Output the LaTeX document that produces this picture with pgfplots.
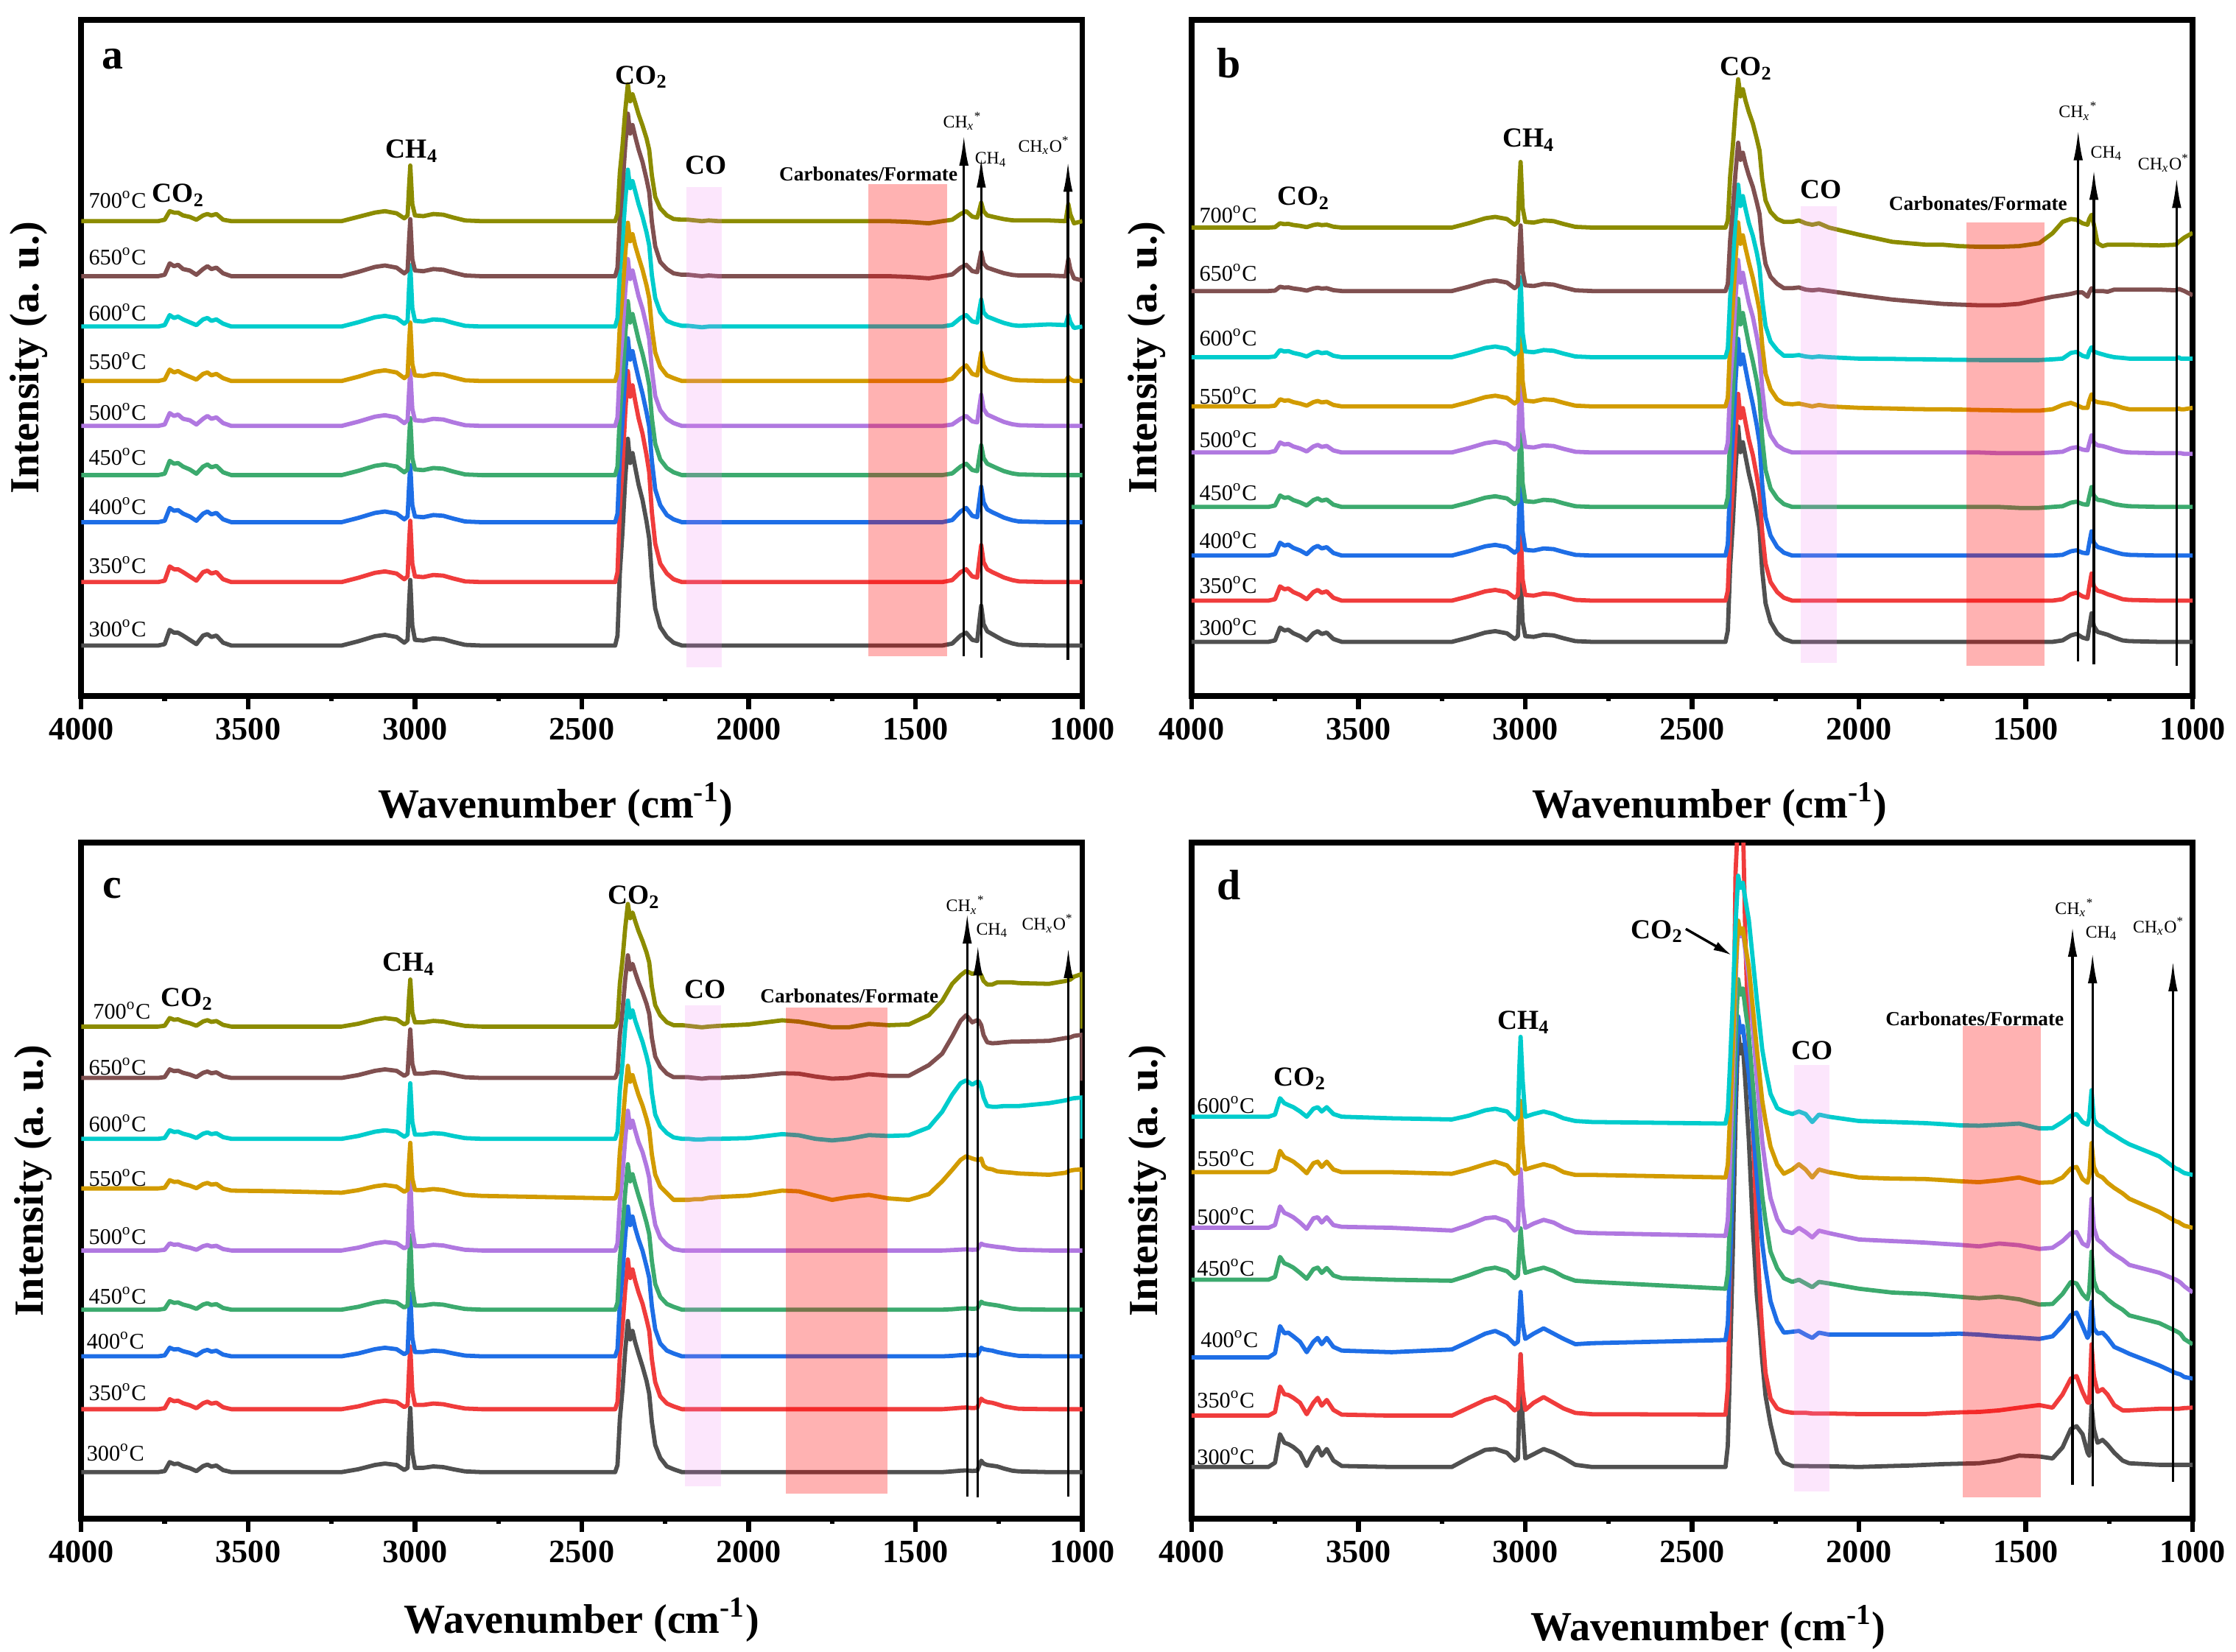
\documentclass[border=0pt]{standalone}
\usepackage{fontspec}
\setmainfont{Liberation Serif}
\usepackage{pgfplots}
\usepackage{pgfplotstable}
\pgfplotsset{compat=1.18}
\usetikzlibrary{arrows.meta}

\definecolor{c300}{RGB}{80,80,80}
\definecolor{c350}{RGB}{240,60,60}
\definecolor{c400}{RGB}{30,110,230}
\definecolor{c450}{RGB}{60,170,110}
\definecolor{c500}{RGB}{176,120,224}
\definecolor{c550}{RGB}{210,155,0}
\definecolor{c600}{RGB}{0,204,204}
\definecolor{c650}{RGB}{128,80,80}
\definecolor{c700}{RGB}{140,140,0}
\definecolor{coband}{RGB}{238,130,238}
\definecolor{carb}{RGB}{255,0,0}

\pgfplotstableread{
x t300 t350 t400 t450 t500 t550 t600 t650 t700
4000 0 0 0 0 0 0 0 0 0
3770 0 0 0 0 0 0 0 0 0
3750 1 1 1 1 1 1 1 1 1
3735 11 11 10 10 9 8 8 9 7
3722 9 9 8 8 7 6 6 7 6
3710 9 9 8.5 8.5 8 7 7 8 6
3695 7 7 6 6 5 5 5 5 4
3675 4 4 4 4 4 3 3 4 3
3655 1 1 1 1 1 1 1 1 1
3635 7 7 6 6 5 5 5 5 4
3622 8 8 7.5 7.5 7 6 6 7 5
3610 6 6 5.5 5.5 5 4 4 5 4
3595 7 7 6.5 6.5 6 5 5 6 5
3575 2 2 2 2 2 2 2 2 1
3550 0 0 0 0 0 0 0 0 0
3400 0 0 0 0 0 0 0 0 0
3220 0 0 0 0 0 0 0 0 0
3170 3 3 3 3 3 3 3 3 3
3120 6.5 6.5 6.5 6.5 6.5 6.5 6.5 6.5 6
3090 7.5 7.5 7.5 7.5 7.5 7.5 7.5 7.5 7
3055 6 6 6 6 6 6 6 6 5.5
3032 2 2 2 2 2 2 2 2 2
3022 4 4 4 4 4 4 4 4 4
3018 28 26 24 24 23 25 26 24 23
3014 46 43 40 40 39 41 43 40 39
3008 14 13 12 12 12 12 13 12 12
3000 4 4 4 4 4 4 4 4 4
2975 3.5 3.5 3.5 3.5 3.5 3.5 3.5 3.5 3.5
2945 5 5 5 5 5 5 5 5 5
2915 4.5 4.5 4.5 4.5 4.5 4.5 4.5 4.5 4.5
2885 2.5 2.5 2.5 2.5 2.5 2.5 2.5 2.5 2.5
2850 0.5 0.5 0.5 0.5 0.5 0.5 0.5 0.5 0.5
2800 0 0 0 0 0 0 0 0 0
2400 0 0 0 0 0 0 0 0 0
2393 7 7 6 6 6 6 6 6 5
2386 51 52 45 43 41 39 39 40 34
2378 80 81 71 67 64 61 61 63 53
2370 116 118 103 98 94 89 88 91 77
2362 145 148 129 122 117 111 110 114 96
2355 128 130 114 107 103 98 97 100 84
2348 135 138 120 113 109 103 102 106 89
2340 125 127 111 105 101 95 95 98 83
2330 113 115 101 95 91 87 86 89 75
2318 102 104 90 85 82 78 77 80 67
2306 87 89 77 73 70 67 66 68 58
2298 75 77 67 63 61 58 57 59 50
2290 48 49 43 40 39 37 36 38 32
2280 26 27 23 22 21 20 20 21 17
2265 13 13 12 11 11 10 10 10 9
2245 6 6 5 5 5 4 4 5 4
2225 2 2 2 2 2 2 2 2 1.5
2200 0 0 0 0 0 0 0.5 1 1
2180 0 0 0 0 0 0 0.5 1 1
2160 0 0 0 0 0 0 0 0.5 0.5
2140 0 0 0 0 0 0 -0.5 0 0
2120 0 0 0 0 0 0 0 0.5 0.5
2090 0 0 0 0 0 0 0 0 0
2000 0 0 0 0 0 0 0 0 0
1900 0 0 0 0 0 0 0 0 0
1850 0 0 0 0 0 0 0 0 0
1800 0 0 0 0 0 0 0 0 0
1750 0 0 0 0 0 0 0 0 0
1700 0 0 0 0 0 0 0 0 0
1640 0 0 0 0 0 0 0 0 0
1580 0 0 0 0 0 0 0 0 0
1520 0 0 0 0 0 0 0 -0.5 -0.5
1460 0 0 0 0 0 0 0 -1.5 -1.5
1420 0 0 0 0 0 0 0 0 0
1390 1.4 1.4 1.5 1.2 1 1.7 1.2 1.2 1
1365 7 7 7.5 6 5 8 6 6 5
1348 9 9 10 8 7 11 8 8 7
1330 4 4 4.5 3.6 3.2 5 3.6 3.6 3.2
1315 3.2 3.2 3.5 2.8 2.5 3.9 2.8 2.8 2.5
1310 14 13 12.5 10.5 11 10 9.5 8.5 6.5
1303 28 26 25 21 22 20 19 17 13
1296 15 14 14 12 12 11 10 9 7
1285 10 9 9 8 8 7 7 6 4
1270 8 7 7 6.4 6.4 5.6 5.6 4.8 3.2
1255 6 5.4 5.4 4.8 4.8 4.2 4.2 3.6 2.4
1235 3.5 3.2 3.2 2.8 2.8 2.5 2.5 2.1 1.4
1210 1.5 1.4 1.4 1.2 1.2 1 1 0.9 0.6
1190 0.5 0.5 0.5 0.5 0.5 0.5 0.5 0.5 0.5
1100 0 0 0 0 0 0 1.5 0.5 0.5
1050 0 0 0 0 0 0 1 0 0
1042 0 0 0 0 0 3 8 12 12
1036 0 0 0 0 0 1.2 3.2 4.8 4.8
1025 0 0 0 0 0 0 -1 -1.5 -1.5
1000 0 0 0 0 0 0 0 -3 0
}\tabA

\pgfplotstableread{
x t300 t350 t400 t450 t500 t550 t600 t650 t700
4000 0 0 0 0 0 0 0 0 0
3770 0 0 0 0 0 0 0 0 0
3750 1 1 1 1 1 0.5 0.5 0.3 0.3
3735 10 10 9 8 7 5 5 3 3
3722 8 8 7 6.4 5.6 4 4 2.4 2.4
3710 8.5 8.5 7.7 6.8 6 4.3 4.3 2.6 2.6
3695 6 6 5.4 4.8 4.2 3 3 1.8 1.8
3675 4 4 3.6 3.2 2.8 2 2 1.2 1.2
3655 1 1 1 1 0.7 0.5 0.5 0.3 0.3
3635 6 6 5.4 4.8 4.2 3 3 1.8 1.8
3622 7.5 7.5 6.8 6 5.3 3.8 3.8 2.3 2.3
3610 5.5 5.5 5 4.4 3.9 2.8 2.8 1.7 1.7
3595 6.5 6.5 5.9 5.2 4.6 3.3 3.3 2 2
3575 2 2 1.8 1.6 1.4 1 1 0.6 0.6
3550 0 0 0 0 0 0 0 0 0
3400 0 0 0 0 0 0 0 0 0
3220 0 0 0 0 0 0 0 0 0
3170 3 3 3 3 3 3 3 3 3
3120 6.5 6.5 6.5 6.5 6.5 6.5 6.5 6.5 6.5
3090 7.5 7.5 7.5 7.5 7.5 7.5 7.5 7.5 7.5
3055 6 6 6 6 6 6 6 6 6
3032 2 2 2 2 2 2 2 2 2
3022 4 4 4 4 4 4 4 4 4
3018 28 30 34 34 34 36 34 28 28
3014 46 50 56 56 56 60 56 46 46
3008 14 15 17 17 17 18 17 14 14
3000 4 4 4 4 4 4 4 4 4
2975 3.5 3.5 3.5 3.5 3.5 3.5 3.5 3.5 3.5
2945 5 5 5 5 5 5 5 5 5
2915 4.5 4.5 4.5 4.5 4.5 4.5 4.5 4.5 4.5
2885 2.5 2.5 2.5 2.5 2.5 2.5 2.5 2.5 2.5
2850 0.5 0.5 0.5 0.5 0.5 0.5 0.5 0.5 0.5
2800 0 0 0 0 0 0 0 0 0
2400 0 0 0 0 0 0 0 0 0
2393 8 7 8 7 7 6 6 5 5
2386 53 51 53 51 47 45 42 36 36
2378 83 80 84 80 74 71 67 57 57
2370 121 116 122 117 108 103 97 83 83
2362 151 145 152 146 135 129 121 104 104
2355 133 128 134 128 119 114 106 92 92
2348 140 135 141 136 126 120 113 97 97
2340 130 125 131 126 116 111 104 89 89
2330 118 113 119 114 105 101 94 81 81
2318 106 102 106 102 95 90 85 73 73
2306 91 87 91 88 81 77 73 62 62
2298 79 75 79 76 70 67 63 54 54
2290 50 48 50 48 45 43 40 34 34
2280 27 26 27 26 24 23 22 19 19
2265 14 13 14 13 12 12 11 10 11
2245 6 6 6 6 5 5 5 5 6
2225 2 2 2 2 2 2 1 2 4
2200 0 0 0 0 0 1.5 1 2 4
2180 0 0 0 0 0 2 1.5 2.5 5
2160 0 0 0 0 0 1 0.5 1 3
2140 0 0 0 0 0 0 0 0.5 2
2120 0 0 0 0 0 1 0.5 1 3
2090 0 0 0 0 0 0 0 0 0
2000 0 0 0 0 0 -1 -1 -3 -5
1900 0 0 0 0 0 -1.5 -1.2 -6 -10
1850 0 0 0 0 0 -1.8 -1.4 -7 -11
1800 0 0 0 0 0 -2 -1.5 -8 -12
1750 0 0 0 0 0 -2 -1.7 -9 -12
1700 0 0 0 0 0 -2.2 -1.8 -9.5 -13
1640 0 0 0 0 0 -2.5 -2 -10 -13.5
1580 0 0 0 0 -0.5 -2.7 -2 -10 -13.5
1520 0 0 0 -0.7 -0.5 -3 -2 -9 -13
1460 0 0 0 -0.7 -0.5 -3 -2 -6 -11
1420 0 0 0 0 0 -2 -1.5 -4 -4
1390 1 1 0.5 0.5 0.5 1 -1 -3 4
1365 4.5 4.5 3 3 3 2.5 3 -2 6
1348 5.6 5.6 3.7 3.7 3.7 1 3.7 -1 5.5
1330 3 3 2 2 2 -1 1 -1 3
1315 2 2 1.5 1.5 1.5 -1 0 -4 2
1310 10 9.5 8.5 7 6 4 4 -1 6
1303 20 19 17 14 12 8.5 7 2 9
1296 11 10 9 8 7 4 4 0 2
1285 7 7 6 5 5 3 3 0 -11
1270 6 6 5 4.5 4.5 2.5 2 0 -13
1255 5 4.5 4 3.5 3.5 2 1 -0.5 -12
1235 3 3 2.5 2 2 1 0 1 -12
1210 1 1 1 1 0.5 -1 -0.5 1 -12
1190 0.5 0.5 0.5 0.5 0 -2 -1 1 -12
1100 0 0 0 0 -0.5 -2 -1 1 -12.5
1050 0 0 0 0 -0.5 -2 -1 0.5 -12
1042 0 0 0 0 -0.5 -1.5 0 1.5 -10
1036 0 0 0 0 -0.5 -2 -1 1 -9
1025 0 0 0 0 -1 -2 -1 0 -7
1000 0 0 0 0 -1 -1 -1 -3 -3.7
}\tabB

\pgfplotstableread{
x t300 t350 t400 t450 t500 t550 t600 t650 t700
4000 0 0 0 0 0 0 0 0 0
3770 0 0 0 0 0 0 0 0 0
3750 0.7 0.7 0.6 0.6 0.5 0.5 0.6 0.6 0.6
3735 7 7 6 6 5 5.8 6 6 6
3722 5.6 5.6 4.8 4.8 4 4.6 4.8 4.8 4.8
3710 6 6 5.1 5.1 4.3 4.8 5.1 5.1 5.1
3695 4.2 4.2 3.6 3.6 3 3.2 3.6 3.6 3.6
3675 2.8 2.8 2.4 2.4 2 2 2.4 2.4 2.4
3655 0.7 0.7 0.6 0.6 0.5 0.2 0.6 0.6 0.6
3635 4.2 4.2 3.6 3.6 3 3 3.6 3.6 3.6
3622 5.3 5.3 4.5 4.5 3.8 3.9 4.5 4.5 4.5
3610 3.9 3.9 3.3 3.3 2.8 2.7 3.3 3.3 3.3
3595 4.6 4.6 3.9 3.9 3.3 3.2 3.9 3.9 3.9
3575 1.4 1.4 1.2 1.2 1 -0.1 1.2 1.2 1.2
3550 0 0 0 0 0 -1.5 0 0 0
3400 0 0 0 0 0 -2 0 0 0
3220 0 0 0 0 0 -3 0 0 0
3170 2 2 2 2 2 -1.2 2 2 2
3120 5 5 5 5 5 1.5 5 5 5
3090 6 6 6 6 6 2.4 6 6 6
3055 5 5 5 5 5 1.3 5 5 5
3032 1.5 1.5 1.5 1.5 1.5 -2.3 1.5 1.5 1.5
3022 3 3 3 3 3 -0.9 3 3 3
3018 27 26 26 31 31 18 23 20 20
3014 45 44 44 52 51 32 39 34 33
3008 14 13 13 16 15 7 12 10 10
3000 3 3 3 3 3 -1 3 3 3
2975 3 3 3 3 3 -1.2 3 3 3
2945 4 4 4 4 4 -0.4 4 4 4
2915 3.5 3.5 3.5 3.5 3.5 -1.1 3.5 3.5 3.5
2885 2 2 2 2 2 -2.8 2 2 2
2850 0.5 0.5 0.5 0.5 0.5 -4.5 0.5 0.5 0.5
2800 0 0 0 0 0 -5.2 0 0 0
2400 0 0 0 0 0 -7 0 0 0
2393 5 5 5 5 5 -2.4 5 4 4
2386 37 37 37 36 34 25.6 34 30 30
2378 58 58 58 56 54 44.2 53 47 47
2370 85 84 84 82 78 67.4 78 69 69
2362 106 105 105 102 98 86 97 86 86
2355 93 92 92 90 86 74.8 85 76 76
2348 99 98 98 95 91 79.5 90 80 80
2340 91 90 90 88 84 73 83 74 74
2330 83 82 82 80 76 65.5 76 67 67
2318 74 74 74 71 69 58.1 68 60 60
2306 64 63 63 61 59 48.8 58 52 52
2298 55 55 55 53 51 41.4 50 45 45
2290 35 35 35 34 32 23.7 32 28 28
2280 19 19 19 18 18 9.7 17 15 15
2265 10 9 9 9 9 1.4 9 8 8
2245 4 4 4 4 4 -3.3 4 3 3
2225 2 2 2 2 1 -8 1 0.5 1
2200 0 0 0 0 0 -8 0 0.5 1
2180 0 0 0 0 0 -8 0 0.5 0.5
2160 0 0 0 0 0 -7.5 -0.5 0 0
2140 0 0 0 0 0 -7.5 -0.5 -0.5 -0.5
2120 0 0 0 0 0 -6.5 0 0 0
2090 0 0 0 0 0 -6 0 0 0.5
2000 0 0 0 0 0 -5 0.5 1 1.5
1900 0 0 0 0 0 -1.5 3.3 3.3 4.4
1850 0 0 0 0 0 -2 2.5 3 3.5
1800 0 0 0 0 0 -5 0 1 1.5
1750 0 0 0 0 0 -8 -1.1 -0.5 -0.5
1700 0 0 0 0 0 -6 0 0 -0.5
1640 0 0 0 0 0 -4.5 2.6 2.6 1.9
1580 0 0 0 0 0 -7 2 1.5 1
1520 0 0 0 0 0 -8 2.5 1.5 1.5
1460 0 0 0 0 0 -4 8 9 8
1420 0 0 0 0 0 5 19 17 18
1390 0.5 0.5 0.3 0.3 0.3 13 31 29 30
1365 1 1 0.8 0.8 0.6 20 39 40 36
1348 1.2 1.2 1 1 0.8 22.6 41 44 39
1330 0.8 0.8 0.6 0.6 0.5 21 38 39 37
1315 1 1 0.8 0.8 0.6 20 40 40.5 38
1310 4 4 3 3 2.5 20 40 40 38
1303 8 7.4 6 5.6 4.8 21 36 37 36
1296 6 6 5 4.5 4 16 29 30 32
1285 5 5 4.5 4 3.5 14 23 25 29.5
1270 4.5 4.5 4 3.5 3 13.4 22.5 24.3 29.5
1255 4 3.5 3 3 2.5 12 22.5 24.5 31
1235 2.5 2 2 2 2 11.5 23 25 31
1210 1 1 1 0.8 1 11 23 25.5 31
1190 0.5 0.3 0.3 0.3 0.5 10.5 23 25.5 30.5
1100 0 0 0 0 0 9.6 25 26 30
1050 0 0 0 0 0 11 27 28 32
1042 0 0 0 0 0 12 27.5 28 32.5
1036 0 0 0 0 0 12.5 28 28.5 33
1025 0 0 0 0 0 13 28.5 29.5 35
1000 0 0 0 0 0 13.4 29 30.3 37
1000 0 0 0 0 0 -1 0 -2 -1.4
}\tabC

\pgfplotstableread{
x t300 t350 t400 t450 t500 t550 t600
4000 0 0 0 0 0 0 0
3770 0 0 0 0 0 0 0
3750 3 2.5 3 2 2 2 1.5
3735 23 20.4 22 16 15 15 13
3722 17 15 17 11.5 10.5 10.5 9.5
3710 16 14.5 17.4 10.4 9.3 9.3 8.2
3695 14 12.5 14.8 8.5 7.4 7.4 6.7
3675 10 9 11 4.8 3.7 3.7 3.7
3655 0.7 1 3.7 0.7 -0.7 -0.7 0
3635 10 9 11 7.4 6.7 6.3 5.6
3622 14 12.5 13.7 8.5 7.4 7.4 6.7
3610 8 7 9.3 4.8 3.7 3.7 3.7
3595 12.6 11 13.7 8.2 7.4 7.4 6.7
3575 4.5 4 7.4 3 1.9 1.9 1.9
3550 0.7 0.7 4.8 1.1 0.7 0 0
3400 0 0 3.7 0 0 0 -1.1
3220 0 0 5.6 -0.7 -1.9 -1.1 -1.9
3170 6.3 5.5 11 3 1.9 1.9 0.7
3120 12 11 16.7 7.4 6.7 5.6 4.5
3090 12.6 13 18.6 8.5 7.4 7.4 5.6
3055 10 9 14.8 6 4.5 4.8 3.7
3032 4.5 3.7 9.3 1.1 -1.9 -1.1 -1.9
3022 6 5 11 3 0 0 0
3018 41 23 28 20 24 28 33
3014 79 43 46 36 41 50 56
3008 34 18 24 18 15 20 26
3000 6 4 13 4.8 0 1.9 0
2975 9 9 16.7 6.7 3 3.7 1.9
2945 12.6 13 20.4 8.5 5.6 5.6 3.7
2915 10 9 16.7 6 3.7 3.7 1.9
2885 6.3 5 13 2.2 0 0 -1.1
2850 1.5 1.9 9.3 -0.7 -3 -1.9 -3
2800 0 1 10 -1.5 -3.7 -1.9 -3.7
2400 0 0.7 12.2 -6.3 -5.6 -3.7 -4.8
2393 15 20 23.6 4.6 5.4 5.3 3.9
2386 76 100 69 48 49.6 41.3 38.7
2378 152 220 125.7 102.2 104.9 86.3 82
2370 244 380 193.8 167.3 171.2 140.3 134.4
2362 305 420 239.2 210.7 215.4 176.3 169
2355 290 420 227.9 199.9 204.4 167.3 160.5
2348 296 420 232.4 204.2 208.8 171 164
2340 268 330 216.5 189 193.3 158.3 151.8
2330 229 260 198.3 171.6 175.6 143.9 137.9
2318 168 200 162 136.9 140.3 115.1 110
2306 120 130 125.7 102.2 104.9 86.3 82
2298 100 90 103 80.5 82.8 68.3 65
2290 75 60 80.3 58.8 60.7 50.3 47.4
2280 50 30 62.1 41.4 43 35.9 33.5
2265 30 12 39.4 19.7 20.9 17.9 16
2245 10 5 25 8 6 5.3 6
2225 3 3 17.4 1.1 -1.9 -1.1 3.7
2200 0.7 2 18 -1.5 -3.7 1.9 1.9
2180 0.7 2 18.6 0 0 5.6 3.7
2160 0.7 2 16 -2.6 -3 1.9 1.9
2140 0.5 1.5 13.7 -5.2 -6.7 -3.7 -3.7
2120 0.5 1.5 17.4 -1.5 -2 1.9 1.5
2090 0.5 1.5 16 -2.6 -3.7 0 0
2000 0 1.1 16 -6.3 -8.2 -3.7 -3
1900 0.7 1.1 16 -9 -9.3 -4.5 -3.7
1850 1 1.1 16 -9.5 -9.8 -4.6 -4.1
1800 1.5 1.1 16 -10 -10.4 -4.8 -4.5
1750 2 1.8 16.3 -11 -11.2 -5.5 -5.2
1700 2.3 2.3 16.7 -11.9 -11.9 -6.3 -6
1640 2.6 2.6 16 -13 -13 -7 -6.3
1580 4.5 3.7 14.8 -11.9 -11 -5.6 -5.6
1520 8 5.6 14 -13.7 -12.2 -3.7 -4.8
1460 7.4 7.4 13 -17.4 -14.8 -7.4 -8.2
1420 6 5.6 14.8 -17 -14 -7 -8
1390 13.7 14.8 22 -10 -9.3 -3.7 -3.7
1365 26.7 26 29.7 -1.5 -3.7 2.6 0.7
1348 28.6 27.8 31.5 -2.6 -3 3.7 1.9
1330 23 16.7 22 -10 -11 -4.8 -3.7
1315 10 9.3 13.7 -13.7 -13 -7.4 -5.6
1310 8 9 16 -8 -8 -3 -1
1303 43 50 39 19.7 20.4 20.4 18.6
1296 26.7 27.8 20.4 -0.7 0 3.7 -1.9
1285 17 16.7 16.7 -8 -8.2 -1.9 -5.6
1270 19 18.6 17.4 -10 -11 -3.7 -7.4
1255 15.6 14.8 13.7 -13.7 -14.8 -7.4 -10.4
1235 10 7.4 7.4 -17.4 -18.6 -11 -13
1210 4.5 3.7 4.8 -21 -22.3 -14.8 -16.7
1190 2.6 3.7 2.6 -25 -26 -18.6 -19.3
1100 1.5 4.8 -5.6 -30.4 -31.5 -27.8 -27.8
1050 1.5 4.8 -11 -36 -36.4 -34.5 -36.4
1042 1.5 4.8 -11.5 -37 -37.5 -35 -37
1036 1.5 5 -12 -38 -38.5 -36 -38
1025 1.5 5.3 -13.7 -41.6 -41 -37.5 -39.5
1000 1.5 5.6 -14.8 -45.3 -45.3 -39 -40.8
}\tabD

\newcommand{\spec}[4]{\addplot[color=#1] table[x=x, y expr=\thisrow{#2}+#3] {#4};}
\newcommand{\tl}[1]{#1\textsuperscript{o}C}

\tikzset{
  arr/.style={line width=1pt, -{Latex[length=4.3mm,width=1.3mm]}},
  lett/.style={font=\fontsize{17}{17}\selectfont\bfseries},
  big/.style={font=\fontsize{11}{11}\selectfont\bfseries},
  carbl/.style={font=\fontsize{8}{8}\selectfont\bfseries},
  sml/.style={font=\fontsize{7}{7}\selectfont},
  tlab/.style={font=\fontsize{8.9}{9}\selectfont, anchor=west, inner sep=0pt},
}

\pgfplotsset{
  specax/.style={
    scale only axis, width=14.04cm, height=9.48cm,
    xmin=1000, xmax=4000, ymin=0, ymax=474, x dir=reverse,
    axis line style={line width=0.8mm},
    xtick={1000,1500,2000,2500,3000,3500,4000},
    minor xtick={1250,1750,2250,2750,3250,3750},
    ytick=\empty,
    xtick pos=bottom,
    tick align=outside,
    major tick length=0.19cm, minor tick length=0.07cm,
    tick style={black, line width=0.65mm},
    /pgf/number format/assume math mode=true,
    xticklabel style={font=\fontsize{13}{13}\selectfont\bfseries, /pgf/number format/1000 sep={}},
    every axis plot/.append style={line width=1.7pt, line join=round},
    every axis x label/.style={font=\fontsize{16.5}{16.5}\selectfont\bfseries, anchor=base},
    every axis y label/.style={font=\fontsize{16.5}{16.5}\selectfont\bfseries, rotate=90, anchor=center},
    xlabel={Wavenumber (cm\textsuperscript{-1})},
    ylabel={Intensity (a. u.)},
  }
}

\begin{document}
\begin{tikzpicture}
\useasboundingbox (0,0) rectangle (31.36,23.16);

% ---------------- panel a
\begin{axis}[specax, at={(1.14cm,13.40cm)}, anchor=south west,
  xlabel style={at={(axis description cs:0.4736,-0.18)}},
  ylabel style={at={(axis description cs:-0.0527,0.5)}}]
\spec{c300}{t300}{35.3}{\tabA}
\spec{c350}{t350}{79.8}{\tabA}
\spec{c400}{t400}{121.8}{\tabA}
\spec{c450}{t450}{154.8}{\tabA}
\spec{c500}{t500}{189.3}{\tabA}
\spec{c550}{t550}{220.8}{\tabA}
\spec{c600}{t600}{259}{\tabA}
\spec{c650}{t650}{294.3}{\tabA}
\spec{c700}{t700}{332.9}{\tabA}
\addplot[draw=none, fill=coband, fill opacity=0.2] coordinates {(2186,20) (2080,20) (2080,357) (2186,357)};
\addplot[draw=none, fill=carb, fill opacity=0.3] coordinates {(1641,28) (1406,28) (1406,359) (1641,359)};
\draw[arr] (axis cs:1355,28) -- (axis cs:1355,393.4);
\draw[arr] (axis cs:1303,27) -- (axis cs:1303,378);
\draw[arr] (axis cs:1043,25) -- (axis cs:1043,375);
\node[lett] at (axis cs:3906,446.4) {a};
\node[big] at (axis cs:2321,434) {CO\textsubscript{2}};
\node[big] at (axis cs:3009,382) {CH\textsubscript{4}};
\node[big] at (axis cs:2128,372) {CO};
\node[big] at (axis cs:3709,351) {CO\textsubscript{2}};
\node[carbl] at (axis cs:1641,366) {Carbonates/Formate};
\node[sml] at (axis cs:1359,403) {CH\textsubscript{\textit{x}}\textsuperscript{*}};
\node[sml] at (axis cs:1274,376) {CH\textsubscript{4}};
\node[sml] at (axis cs:1115,386) {CH\textsubscript{\textit{x}}O\textsuperscript{*}};
\node[tlab] at (axis cs:3979,347.7) {\tl{700}};
\node[tlab] at (axis cs:3979,308) {\tl{650}};
\node[tlab] at (axis cs:3979,269) {\tl{600}};
\node[tlab] at (axis cs:3979,234.6) {\tl{550}};
\node[tlab] at (axis cs:3979,199.3) {\tl{500}};
\node[tlab] at (axis cs:3979,167.8) {\tl{450}};
\node[tlab] at (axis cs:3979,133) {\tl{400}};
\node[tlab] at (axis cs:3979,91.7) {\tl{350}};
\node[tlab] at (axis cs:3979,47.2) {\tl{300}};
\end{axis}

% ---------------- panel b
\begin{axis}[specax, at={(16.712cm,13.40cm)}, anchor=south west,
  xlabel style={at={(axis description cs:0.5177,-0.18)}},
  ylabel style={at={(axis description cs:-0.0449,0.5)}}]
\spec{c300}{t300}{37.9}{\tabB}
\spec{c350}{t350}{66.8}{\tabB}
\spec{c400}{t400}{98.4}{\tabB}
\spec{c450}{t450}{132.5}{\tabB}
\spec{c500}{t500}{170.7}{\tabB}
\spec{c550}{t550}{203}{\tabB}
\spec{c600}{t600}{237.5}{\tabB}
\spec{c650}{t650}{283.9}{\tabB}
\spec{c700}{t700}{328.4}{\tabB}
\addplot[draw=none, fill=coband, fill opacity=0.2] coordinates {(2174,23.4) (2067,23.4) (2067,343.3) (2174,343.3)};
\addplot[draw=none, fill=carb, fill opacity=0.3] coordinates {(1679,21.2) (1444,21.2) (1444,332.2) (1679,332.2)};
\draw[arr] (axis cs:1343,24.2) -- (axis cs:1343,397.1);
\draw[arr] (axis cs:1296,22.3) -- (axis cs:1296,369.3);
\draw[arr] (axis cs:1048,21.2) -- (axis cs:1048,363.7);
\node[lett] at (axis cs:3888,443.5) {b};
\node[big] at (axis cs:2338,439.8) {CO\textsubscript{2}};
\node[big] at (axis cs:2990,389.7) {CH\textsubscript{4}};
\node[big] at (axis cs:2113,355.2) {CO};
\node[big] at (axis cs:3664,348.9) {CO\textsubscript{2}};
\node[carbl] at (axis cs:1643,345.1) {Carbonates/Formate};
\node[sml] at (axis cs:1343,410.1) {CH\textsubscript{\textit{x}}\textsuperscript{*}};
\node[sml] at (axis cs:1258,380.4) {CH\textsubscript{4}};
\node[sml] at (axis cs:1087,373.7) {CH\textsubscript{\textit{x}}O\textsuperscript{*}};
\node[tlab] at (axis cs:3978,337.7) {\tl{700}};
\node[tlab] at (axis cs:3978,296.9) {\tl{650}};
\node[tlab] at (axis cs:3978,251.6) {\tl{600}};
\node[tlab] at (axis cs:3978,210.4) {\tl{550}};
\node[tlab] at (axis cs:3978,180) {\tl{500}};
\node[tlab] at (axis cs:3978,142.9) {\tl{450}};
\node[tlab] at (axis cs:3978,109.5) {\tl{400}};
\node[tlab] at (axis cs:3978,78) {\tl{350}};
\node[tlab] at (axis cs:3978,48.3) {\tl{300}};
\end{axis}

% ---------------- panel c
\begin{axis}[specax, at={(1.14cm,1.86cm)}, anchor=south west,
  xlabel style={at={(axis description cs:0.5,-0.169)}},
  ylabel style={at={(axis description cs:-0.0477,0.5)}}]
\spec{c300}{t300}{32.7}{\tabC}
\spec{c350}{t350}{76.8}{\tabC}
\spec{c400}{t400}{113.9}{\tabC}
\spec{c450}{t450}{146.6}{\tabC}
\spec{c500}{t500}{188.1}{\tabC}
\spec{c550}{t550}{231.6}{\tabC}
\spec{c600}{t600}{266.4}{\tabC}
\spec{c650}{t650}{309.1}{\tabC}
\spec{c700}{t700}{345.1}{\tabC}
\addplot[draw=none, fill=coband, fill opacity=0.2] coordinates {(2190,23) (2083,23) (2083,359.8) (2190,359.8)};
\addplot[draw=none, fill=carb, fill opacity=0.3] coordinates {(1889,17.4) (1585,17.4) (1585,358.7) (1889,358.7)};
\draw[arr] (axis cs:1345,15.5) -- (axis cs:1345,424.8);
\draw[arr] (axis cs:1313,14.8) -- (axis cs:1313,402.5);
\draw[arr] (axis cs:1042,15.5) -- (axis cs:1042,400.7);
\node[lett] at (axis cs:3908,442.2) {c};
\node[big] at (axis cs:2344,435.9) {CO\textsubscript{2}};
\node[big] at (axis cs:3018,388.8) {CH\textsubscript{4}};
\node[big] at (axis cs:2130,371) {CO};
\node[big] at (axis cs:3683,364.3) {CO\textsubscript{2}};
\node[carbl] at (axis cs:1698,366.5) {Carbonates/Formate};
\node[sml] at (axis cs:1350,430.3) {CH\textsubscript{\textit{x}}\textsuperscript{*}};
\node[sml] at (axis cs:1270,412.5) {CH\textsubscript{4}};
\node[sml] at (axis cs:1104,417.4) {CH\textsubscript{\textit{x}}O\textsuperscript{*}};
\node[tlab] at (axis cs:3966,356.1) {\tl{700}};
\node[tlab] at (axis cs:3979,317.2) {\tl{650}};
\node[tlab] at (axis cs:3979,277.5) {\tl{600}};
\node[tlab] at (axis cs:3979,239.2) {\tl{550}};
\node[tlab] at (axis cs:3979,198.4) {\tl{500}};
\node[tlab] at (axis cs:3979,156.5) {\tl{450}};
\node[tlab] at (axis cs:3985,125) {\tl{400}};
\node[tlab] at (axis cs:3979,89) {\tl{350}};
\node[tlab] at (axis cs:3985,46.3) {\tl{300}};
\end{axis}

% ---------------- panel d
\begin{axis}[specax, at={(16.712cm,1.86cm)}, anchor=south west,
  xlabel style={at={(axis description cs:0.516,-0.18)}},
  ylabel style={at={(axis description cs:-0.0442,0.5)}}]
\spec{c300}{t300}{36.3}{\tabD}
\spec{c350}{t350}{72.3}{\tabD}
\spec{c400}{t400}{113.1}{\tabD}
\spec{c450}{t450}{167.6}{\tabD}
\spec{c500}{t500}{204}{\tabD}
\spec{c550}{t550}{243}{\tabD}
\spec{c600}{t600}{281.9}{\tabD}
\addplot[draw=none, fill=coband, fill opacity=0.2] coordinates {(2195,19) (2088,19) (2088,318) (2195,318)};
\addplot[draw=none, fill=carb, fill opacity=0.3] coordinates {(1690,14.8) (1454,14.8) (1454,345.7) (1690,345.7)};
\draw[arr] (axis cs:1360,24) -- (axis cs:1360,415.5);
\draw[arr] (axis cs:1300,23) -- (axis cs:1300,397);
\draw[arr] (axis cs:1059,26) -- (axis cs:1059,391.4);
\draw[line width=1pt, -{Latex[length=2.6mm,width=1.3mm]}] (axis cs:2519,413.6) -- (axis cs:2381,395.1);
\node[lett] at (axis cs:3888,444.4) {d};
\node[big] at (axis cs:2605,411.8) {CO\textsubscript{2}};
\node[big] at (axis cs:3005,348) {CH\textsubscript{4}};
\node[big] at (axis cs:2141,328.3) {CO};
\node[big] at (axis cs:3675,308.6) {CO\textsubscript{2}};
\node[carbl] at (axis cs:1653,350.6) {Carbonates/Formate};
\node[sml] at (axis cs:1354,428.5) {CH\textsubscript{\textit{x}}\textsuperscript{*}};
\node[sml] at (axis cs:1273,410.7) {CH\textsubscript{4}};
\node[sml] at (axis cs:1102,415.5) {CH\textsubscript{\textit{x}}O\textsuperscript{*}};
\node[tlab] at (axis cs:3985,290.1) {\tl{600}};
\node[tlab] at (axis cs:3985,253) {\tl{550}};
\node[tlab] at (axis cs:3985,212.2) {\tl{500}};
\node[tlab] at (axis cs:3985,176.2) {\tl{450}};
\node[tlab] at (axis cs:3974,126.1) {\tl{400}};
\node[tlab] at (axis cs:3985,83.4) {\tl{350}};
\node[tlab] at (axis cs:3985,43.7) {\tl{300}};
\end{axis}
\end{tikzpicture}
\end{document}
